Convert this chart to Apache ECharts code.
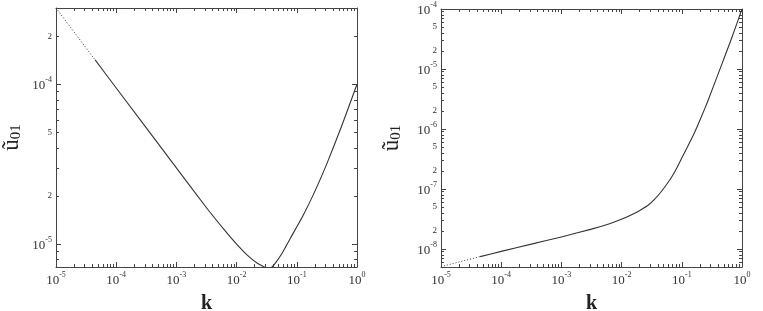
<!DOCTYPE html>
<html><head><meta charset="utf-8">
<script src="https://cdn.jsdelivr.net/npm/echarts@6/dist/echarts.min.js"></script>
<style>html,body{margin:0;padding:0;background:#fff}#c{width:763px;height:311px}</style>
</head><body><div id="c"></div>
<script>
// ---- data ----
const kLeft = [1e-5, 4.467e-5, 1e-4, 1e-3, 3.162e-3, 6.31e-3, 0.01, 0.01585, 0.02239, 0.02818, 0.03162, 0.03802, 0.04467, 0.05623, 0.07943, 0.1259, 0.1995, 0.3162, 0.5623, 1];
const uLeft = [3.0e-4, 1.42e-4, 9.48e-5, 3.0e-5, 1.69e-5, 1.225e-5, 1.002e-5, 8.39e-6, 7.57e-6, 7.24e-6, 7.08e-6, 7.16e-6, 7.67e-6, 8.71e-6, 1.10e-5, 1.50e-5, 2.14e-5, 3.19e-5, 5.55e-5, 1.0e-4];
const kRight = [1e-5, 4.467e-5, 1e-4, 3.162e-4, 1e-3, 3.162e-3, 6.31e-3, 0.01091, 0.01585, 0.02075, 0.02818, 0.03451, 0.04467, 0.05781, 0.07079, 0.08472, 0.1167, 0.1603, 0.2089, 0.2679, 0.4467, 0.6561, 1];
const uRight = [5.07e-9, 7.45e-9, 9.12e-9, 1.202e-8, 1.585e-8, 2.138e-8, 2.63e-8, 3.236e-8, 3.846e-8, 4.467e-8, 5.445e-8, 6.561e-8, 8.81e-8, 1.245e-7, 1.698e-7, 2.355e-7, 4.467e-7, 8.41e-7, 1.549e-6, 2.85e-6, 1.096e-5, 3.04e-5, 1.0e-4];
const dottedCount = 2; // first points drawn dotted
const xTickLabels = [1e-5, 1e-4, 1e-3, 1e-2, 1e-1, 1];
const yTickLabelsLeft = [1e-5, 2e-5, 5e-5, 1e-4, 2e-4];
const yTickLabelsRight = [1e-8, 2e-8, 5e-8, 1e-7, 2e-7, 5e-7, 1e-6, 2e-6, 5e-6, 1e-5, 2e-5, 5e-5, 1e-4];
const xRange = [1e-5, 1];
const yRangeLeft = [7.2e-6, 3e-4];
const yRangeRight = [5e-9, 1e-4];
const xTitle = 'k';
const yTitle = '{u|ũ}{s|01}';

// ---- helpers ----
const font = '"Liberation Serif", "Times New Roman", serif';
const axisColor = '#444';
const textColor = '#333';
function allTicks(min, max) {
  const out = [];
  for (let e = Math.floor(Math.log10(min)) - 1; e <= Math.ceil(Math.log10(max)); e++) {
    for (let m = 1; m <= 9; m++) {
      const v = +(m * Math.pow(10, e)).toPrecision(6);
      if (v >= min * 0.9999 && v <= max * 1.0001) out.push(v);
    }
  }
  return out;
}
function decades(min, max) {
  return allTicks(min, max).filter(v => Math.abs(Math.log10(v) - Math.round(Math.log10(v))) < 1e-6);
}
function fmt(v) {
  const e = Math.floor(Math.log10(v) + 1e-9);
  const m = Math.round(v / Math.pow(10, e));
  if (m === 1) return '{b|10}{s|' + e + '}';
  return '{m|' + m + '}';
}
const labelRich = {
  b: { fontFamily: font, fontSize: 13, color: textColor, lineHeight: 16, verticalAlign: 'bottom' },
  s: { fontFamily: font, fontSize: 8, color: textColor, lineHeight: 9, verticalAlign: 'top' },
  m: { fontFamily: font, fontSize: 9, color: textColor, lineHeight: 16 }
};
function mkAxis(gridIndex, position, range, role, labels, extra) {
  const [min, max] = range;
  const a = {
    type: 'log', logBase: 10, gridIndex, position, min, max,
    splitLine: { show: false }, minorTick: { show: false },
    axisLine: { show: role !== 'minor', onZero: false, lineStyle: { color: axisColor, width: 1 } },
    axisTick: { show: true, inside: true, length: role === 'minor' ? 3 : 5,
      lineStyle: { color: axisColor, width: 1 },
      customValues: role === 'minor' ? allTicks(min, max) : decades(min, max) },
    axisLabel: { show: role === 'label' }
  };
  if (role === 'label') {
    a.axisLabel = { show: true, customValues: labels, formatter: fmt, rich: labelRich, margin: 4, fontFamily: font, color: textColor };
  }
  return Object.assign(a, extra || {});
}
const xName = { name: xTitle, nameLocation: 'middle', nameGap: 27,
  nameTextStyle: { fontFamily: font, fontSize: 20, fontWeight: 'bold', color: '#222' } };
function yName(gap) {
  return { name: yTitle, nameLocation: 'middle', nameGap: gap, nameRotate: 90,
    nameTextStyle: { fontFamily: font, color: '#222',
      rich: { u: { fontFamily: font, fontSize: 23, lineHeight: 24, color: '#222', verticalAlign: 'top' },
              s: { fontFamily: font, fontSize: 15, lineHeight: 20, color: '#222', verticalAlign: 'bottom' } } } };
}

const xAxes = [], yAxes = [];
[[0, yRangeLeft, yTickLabelsLeft, 32], [1, yRangeRight, yTickLabelsRight, 37]].forEach(([g, yr, yl, gap]) => {
  xAxes.push(mkAxis(g, 'bottom', xRange, 'label', xTickLabels, xName));
  xAxes.push(mkAxis(g, 'bottom', xRange, 'minor'));
  xAxes.push(mkAxis(g, 'top', xRange, 'major'));
  xAxes.push(mkAxis(g, 'top', xRange, 'minor'));
  yAxes.push(mkAxis(g, 'left', yr, 'label', yl, yName(gap)));
  yAxes.push(mkAxis(g, 'left', yr, 'minor'));
  yAxes.push(mkAxis(g, 'right', yr, 'major'));
  yAxes.push(mkAxis(g, 'right', yr, 'minor'));
});

function pairs(ks, us) { return ks.map((k, i) => [k, us[i]]); }
function curve(ks, us, g) {
  const d = pairs(ks, us);
  const base = { type: 'line', xAxisIndex: g * 4, yAxisIndex: g * 4, showSymbol: false, clip: true, silent: true };
  return [
    Object.assign({}, base, { smooth: false, data: d.slice(0, dottedCount), lineStyle: { color: '#333', width: 1, type: [1, 2] } }),
    Object.assign({}, base, { smooth: 0.15, data: d.slice(dottedCount - 1), lineStyle: { color: '#333', width: 1.1, join: 'round' } })
  ];
}

const chart = echarts.init(document.getElementById('c'), null, { renderer: 'canvas' });
chart.setOption({
  animation: false,
  backgroundColor: '#fff',
  grid: [
    { left: 56, top: 8, width: 301, height: 259, containLabel: false, outerBoundsMode: 'none' },
    { left: 441, top: 9, width: 301, height: 258, containLabel: false, outerBoundsMode: 'none' }
  ],
  xAxis: xAxes,
  yAxis: yAxes,
  series: [...curve(kLeft, uLeft, 0), ...curve(kRight, uRight, 1)]
});
</script></body></html>
